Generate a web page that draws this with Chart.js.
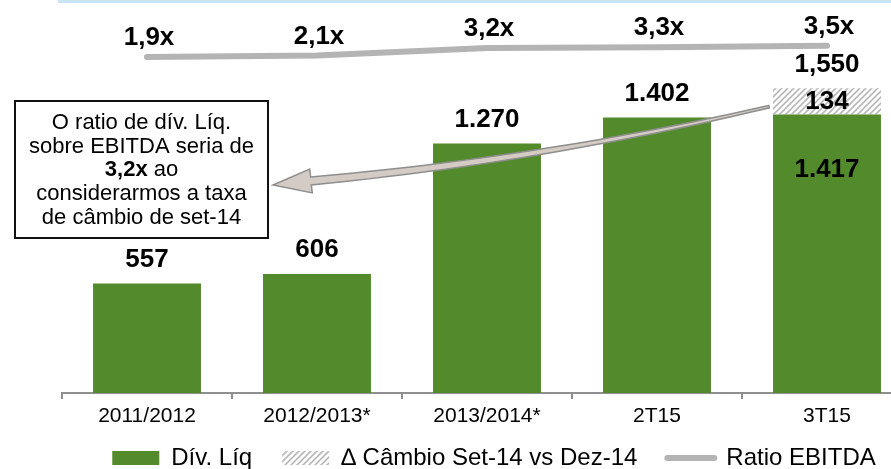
<!DOCTYPE html>
<html>
<head>
<meta charset="utf-8">
<script src="https://cdn.jsdelivr.net/npm/chart.js@4.4.1/dist/chart.umd.min.js"></script>
<style>
  html, body { margin: 0; padding: 0; background: #fff; overflow: hidden; }
  #wrap { width: 891px; height: 469px; overflow: hidden; }
  canvas { display: block; }
</style>
</head>
<body>
<div id="wrap"><canvas id="myChart" width="926" height="469"></canvas></div>
<script>
// dados do gráfico
const categories = ['2011/2012', '2012/2013*', '2013/2014*', '2T15', '3T15'];
const divLiq = [557, 606, 1270, 1402, 1417];
const divLiqLabels = ['557', '606', '1.270', '1.402', '1.417'];
const cambio = [null, null, null, null, 134];
const cambioLabels = ['', '', '', '', '134'];
const totalLabels = ['', '', '', '', '1,550'];
const ratio = [1.9, 2.1, 3.2, 3.3, 3.5];
const ratioLabels = ['1,9x', '2,1x', '3,2x', '3,3x', '3,5x'];
const legendNames = ['Dív. Líq', '∆ Câmbio Set-14 vs Dez-14', 'Ratio EBITDA'];
// caixa de nota: cada linha é uma lista de [texto, negrito]
const noteLines = [
    [['O ratio de dív. Líq.', false]],
    [['sobre EBITDA seria de', false]],
    [['3,2x', true], [' ao', false]],
    [['considerarmos a taxa', false]],
    [['de câmbio de set-14', false]]
];

const FAMILY = "'Liberation Sans', Arial, sans-serif";
const GREEN = '#528a2c';
const GREY = '#b4b4b4';
const AXIS = '#8f8f8f';
const LEGEND_PAD = 30;
const LEGEND_FONT = 24;
const X_AXIS_H = 22;

Chart.defaults.font.family = FAMILY;

// padrão hachurado (////)
function makeHatch() {
    const c = document.createElement('canvas');
    c.width = 6;
    c.height = 6;
    const g = c.getContext('2d');
    g.fillStyle = '#ffffff';
    g.fillRect(0, 0, 6, 6);
    g.strokeStyle = '#b9b9b9';
    g.lineWidth = 1.6;
    g.beginPath();
    g.moveTo(0, 6); g.lineTo(6, 0);
    g.moveTo(-1, 1); g.lineTo(1, -1);
    g.moveTo(5, 7); g.lineTo(7, 5);
    g.stroke();
    return g.createPattern(c, 'repeat');
}
const hatch = makeHatch();

// rótulos de valores e da linha de ratio
const labelPlugin = {
    id: 'labelPlugin',
    afterLayout(chart) {
        // o eixo x fica baixo no layout; deixa os rótulos sem corte
        chart.scales.x.bottom = chart.height;
    },
    afterDatasetsDraw(chart) {
        const ctx = chart.ctx;
        const divMeta = chart.getDatasetMeta(0);
        const cambioMeta = chart.getDatasetMeta(1);
        const ratioMeta = chart.getDatasetMeta(2);
        ctx.save();
        ctx.fillStyle = '#000';
        ctx.textAlign = 'center';
        ctx.textBaseline = 'middle';
        ctx.font = 'bold 26px ' + FAMILY;
        for (let i = 0; i < categories.length; i++) {
            const bar = divMeta.data[i];
            if (cambio[i] != null) {
                // rótulo dentro da barra verde, o delta no meio do trecho hachurado, total acima
                ctx.fillText(divLiqLabels[i], bar.x, bar.y + 55);
                const seg = cambioMeta.data[i];
                ctx.fillText(cambioLabels[i], seg.x, (seg.y + seg.base) / 2);
                ctx.fillText(totalLabels[i], seg.x, seg.y - 23);
            } else {
                ctx.fillText(divLiqLabels[i], bar.x, bar.y - 24);
            }
            const pt = ratioMeta.data[i];
            ctx.fillText(ratioLabels[i], pt.x + 2, pt.y - 19);
        }
        ctx.restore();
    }
};

function quadPoint(p0, c, p1, t) {
    const u = 1 - t;
    return {
        x: u * u * p0.x + 2 * u * t * c.x + t * t * p1.x,
        y: u * u * p0.y + 2 * u * t * c.y + t * t * p1.y
    };
}

// caixa de texto, seta e linha azul do topo
const notePlugin = {
    id: 'notePlugin',
    afterDraw(chart) {
        const ctx = chart.ctx;
        ctx.save();

        // linha azul clara no topo do slide
        ctx.strokeStyle = '#c7e5f2';
        ctx.lineWidth = 3;
        ctx.beginPath();
        ctx.moveTo(58, 1.5);
        ctx.lineTo(chart.width, 1.5);
        ctx.stroke();

        // caixa
        const bx = 15, by = 101, bw = 253, bh = 137;
        ctx.fillStyle = '#fff';
        ctx.fillRect(bx, by, bw, bh);
        ctx.strokeStyle = '#111';
        ctx.lineWidth = 2;
        ctx.strokeRect(bx, by, bw, bh);

        ctx.fillStyle = '#000';
        ctx.textBaseline = 'middle';
        ctx.textAlign = 'left';
        const cx = bx + bw / 2;
        noteLines.forEach((parts, k) => {
            let total = 0;
            parts.forEach(p => {
                ctx.font = (p[1] ? 'bold ' : '') + '22px ' + FAMILY;
                total += ctx.measureText(p[0]).width;
            });
            let x = cx - total / 2;
            parts.forEach(p => {
                ctx.font = (p[1] ? 'bold ' : '') + '22px ' + FAMILY;
                ctx.fillText(p[0], x, by + 22 + k * 23.7);
                x += ctx.measureText(p[0]).width;
            });
        });

        // seta saindo do trecho hachurado até a caixa (haste afinando até a cauda)
        const seg = chart.getDatasetMeta(1).data[4];
        const tail = { x: seg.x - seg.width / 2 - 4, y: seg.y + (seg.base - seg.y) * 0.7 };
        const tip = { x: bx + bw + 5, y: 185 };
        const base = { x: tip.x + 38, y: 181 };
        const ctrl = { x: (tail.x + base.x) / 2, y: 160 };
        const left = [], right = [];
        const steps = 24;
        for (let s = 0; s <= steps; s++) {
            const t = s / steps;
            const p = quadPoint(tail, ctrl, base, t);
            const q = quadPoint(tail, ctrl, base, Math.min(1, t + 0.01));
            const r = quadPoint(tail, ctrl, base, Math.max(0, t - 0.01));
            let dx = q.x - r.x, dy = q.y - r.y;
            const len = Math.hypot(dx, dy);
            dx /= len; dy /= len;
            const w = 1.2 + 2.8 * t;
            left.push({ x: p.x - dy * w, y: p.y + dx * w });
            right.push({ x: p.x + dy * w, y: p.y - dx * w });
        }
        // direção final para a cabeça
        const dxh = tip.x - base.x, dyh = tip.y - base.y;
        const lh = Math.hypot(dxh, dyh);
        const nx = -dyh / lh, ny = dxh / lh;
        ctx.beginPath();
        ctx.moveTo(left[0].x, left[0].y);
        left.forEach(p => ctx.lineTo(p.x, p.y));
        ctx.lineTo(base.x + nx * 12, base.y + ny * 12);
        ctx.lineTo(tip.x, tip.y);
        ctx.lineTo(base.x - nx * 12, base.y - ny * 12);
        for (let s = right.length - 1; s >= 0; s--) {
            ctx.lineTo(right[s].x, right[s].y);
        }
        ctx.closePath();
        ctx.fillStyle = '#d4ccc4';
        ctx.fill();
        ctx.strokeStyle = '#8e8e8e';
        ctx.lineWidth = 1.5;
        ctx.lineJoin = 'miter';
        ctx.stroke();

        ctx.restore();
    }
};

const ctx = document.getElementById('myChart').getContext('2d');
const myChart = new Chart(ctx, {
    type: 'bar',
    data: {
        labels: categories,
        datasets: [
            {
                label: legendNames[0],
                data: divLiq,
                backgroundColor: GREEN,
                borderWidth: 0,
                stack: 'div',
                order: 2
            },
            {
                label: legendNames[1],
                data: cambio,
                backgroundColor: hatch,
                borderWidth: 0,
                stack: 'div',
                order: 2
            },
            {
                type: 'line',
                label: legendNames[2],
                data: ratio,
                yAxisID: 'yRatio',
                borderColor: GREY,
                borderWidth: 6,
                borderCapStyle: 'round',
                borderJoinStyle: 'round',
                pointRadius: 0,
                tension: 0,
                fill: false,
                order: 1
            }
        ]
    },
    options: {
        responsive: false,
        animation: false,
        events: [],
        barPercentage: 0.635,
        categoryPercentage: 1,
        layout: {
            padding: { left: 62, right: 0, top: 0, bottom: -11 }
        },
        plugins: {
            tooltip: { enabled: false },
            legend: {
                position: 'bottom',
                align: 'center',
                labels: {
                    usePointStyle: true,
                    pointStyleWidth: 47,
                    boxHeight: 14,
                    padding: LEGEND_PAD,
                    color: '#000',
                    font: { size: LEGEND_FONT },
                    generateLabels: () => [
                        { text: legendNames[0], fillStyle: GREEN, strokeStyle: GREEN, lineWidth: 0, pointStyle: 'rect', hidden: false, datasetIndex: 0 },
                        { text: legendNames[1], fillStyle: hatch, strokeStyle: '#ccc', lineWidth: 0, pointStyle: 'rect', hidden: false, datasetIndex: 1 },
                        { text: legendNames[2], fillStyle: GREY, strokeStyle: GREY, lineWidth: 6, lineCap: 'round', pointStyle: 'line', hidden: false, datasetIndex: 2 }
                    ]
                }
            }
        },
        scales: {
            x: {
                stacked: true,
                grid: {
                    offset: true,
                    drawOnChartArea: false,
                    drawTicks: true,
                    tickLength: 6,
                    color: AXIS,
                    lineWidth: 2
                },
                border: { display: true, color: AXIS, width: 2 },
                ticks: {
                    color: '#000',
                    font: { size: 21 },
                    padding: 5,
                    maxRotation: 0,
                    autoSkip: false
                },
                afterFit: (scale) => { scale.height = X_AXIS_H + 1; }
            },
            y: {
                stacked: true,
                display: false,
                min: 0,
                max: 2000
            },
            // eixo do ratio à direita, invisível; a largura deixa a área do gráfico terminar em 912
            yRatio: {
                position: 'right',
                display: true,
                min: -46.1,
                max: 10.04,
                ticks: { display: false },
                grid: { display: false },
                border: { display: false },
                afterFit: (scale) => { scale.width = 14; }
            }
        }
    },
    plugins: [labelPlugin, notePlugin]
});
</script>
</body>
</html>
